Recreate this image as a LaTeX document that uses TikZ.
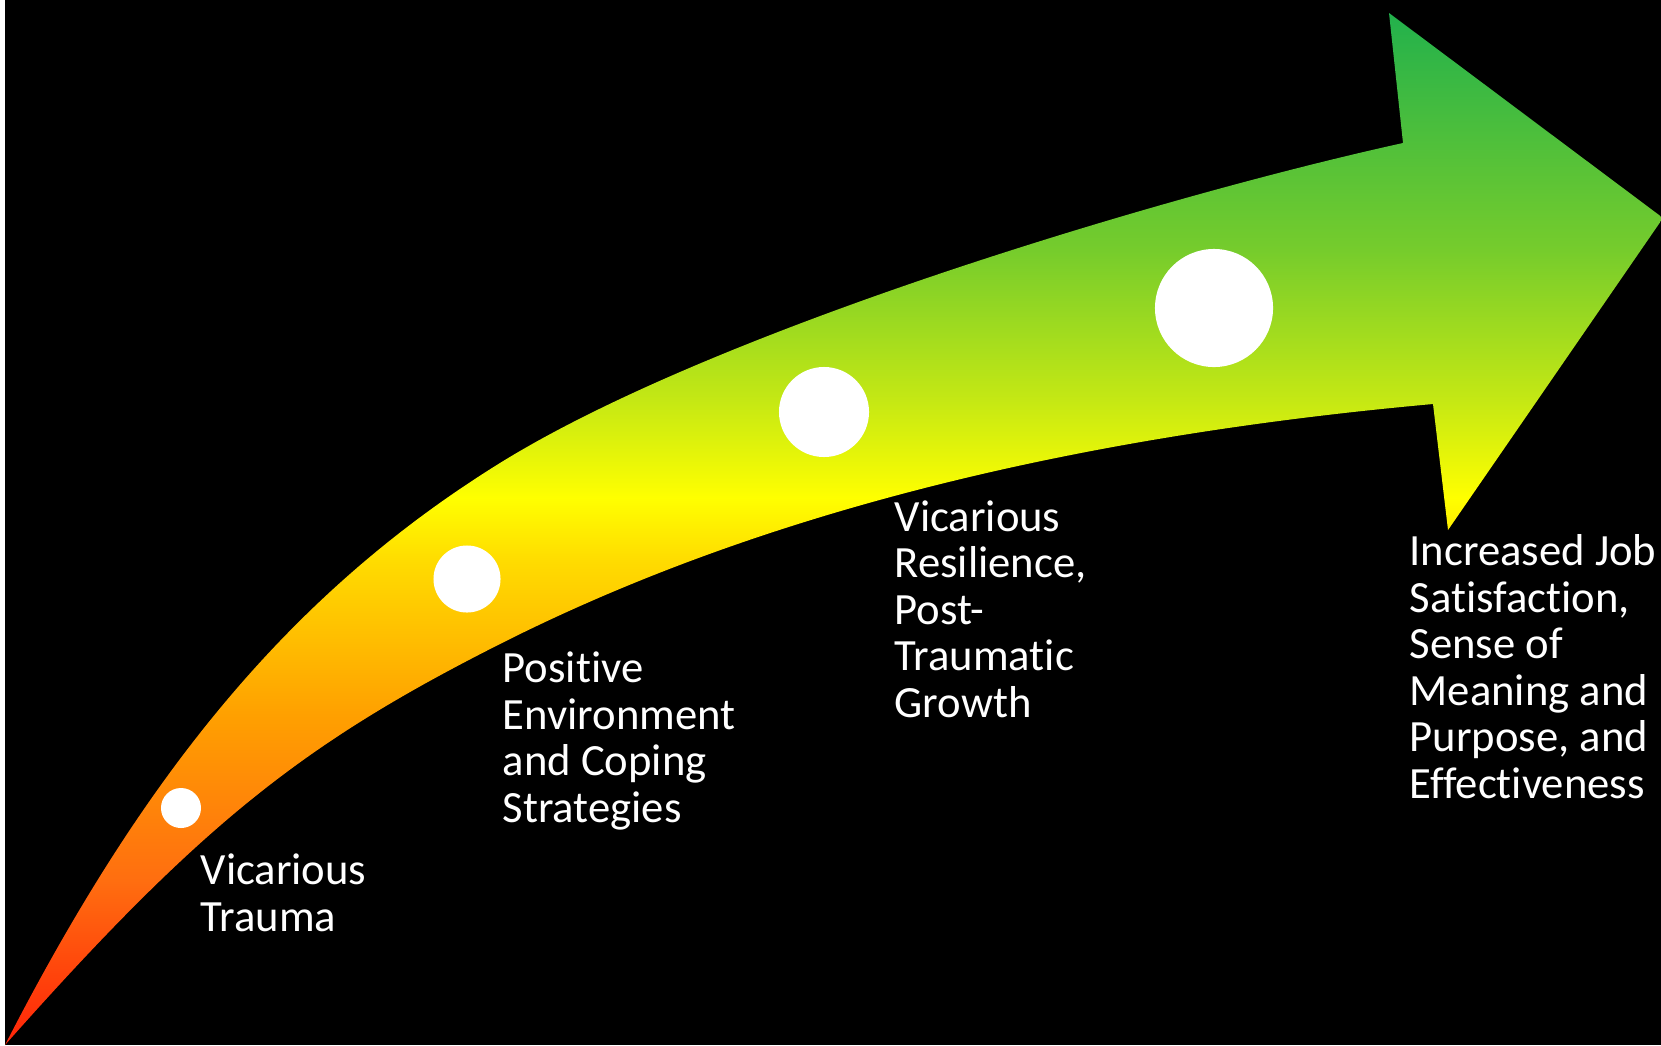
\documentclass[tikz,border=0pt]{standalone}
\usepackage{fontspec}
\setmainfont{Carlito}[Ligatures=NoCommon]
\usepackage{tikz}
\usetikzlibrary{positioning}
\definecolor{trendred}{RGB}{255,36,8}
\definecolor{trendorange}{RGB}{255,110,16}
\definecolor{trendamber}{RGB}{255,160,0}
\definecolor{trendgold}{RGB}{255,220,0}
\definecolor{trendyellow}{RGB}{255,255,0}
\definecolor{trendlime}{RGB}{196,232,20}
\definecolor{trendleaf}{RGB}{118,204,44}
\definecolor{trendgreen}{RGB}{34,177,76}
\pgfdeclareverticalshading{trend}{100bp}{color(0bp)=(trendred); color(25bp)=(trendred);
  color(33bp)=(trendorange); color(41bp)=(trendamber); color(48.5bp)=(trendgold);
  color(51.5bp)=(trendyellow); color(56.3bp)=(trendlime); color(63.5bp)=(trendleaf);
  color(75bp)=(trendgreen); color(100bp)=(trendgreen)}

\begin{document}
\begin{tikzpicture}[
  x=0.01cm, y=-0.01cm,
  milestone/.style={circle, fill=white, inner sep=0pt},
  stage/.style={text=white, font=\fontsize{12.7}{13.2}\selectfont, align=left,
                inner sep=0pt, anchor=base west},
]
\useasboundingbox (0,0) rectangle (1661,1045);

% Background
\fill[black] (0,0) rectangle (1661,1045);
\fill[white] (0,0) rectangle (5,1045);

% Curved arrow
\shade[shading=trend]
  (5,1045) .. controls (142,778) and (287.5,594.75) .. (500,463)
  .. controls (712.5,331.25) and (1159,196.75) .. (1403,143)
  -- (1389,13) -- (1663,218) -- (1448,530) -- (1433,404)
  .. controls (1084.4,435.5) and (767.9,508.7) .. (500,644)
  .. controls (303.5,743.2) and (201.8,823) .. (5,1045)
  -- cycle;

% Milestones
\node[milestone, minimum size=0.4cm] (dottrauma) at (181,808) {};
\node[milestone, minimum size=0.67cm] (dotcoping) at (467,579) {};
\node[milestone, minimum size=0.9cm] (dotgrowth) at (824,412) {};
\node[milestone, minimum size=1.18cm] (dotoutcome) at (1214,308) {};

% Stage texts (anchored at the last line)
\node[stage] (trauma) at (200,931) {Vicarious\\Trauma};
\node[stage] (coping) at (502,822) {Positive\\Environment\\and Coping\\Strategies};
\node[stage] (growth) at (894,717) {Vicarious\\Resilience,\\Post-\\Traumatic\\Growth};
\node[stage] (outcome) at (1409,798) {Increased Job\\Satisfaction,\\Sense of\\Meaning and\\Purpose, and\\Effectiveness};

\end{tikzpicture}
\end{document}
